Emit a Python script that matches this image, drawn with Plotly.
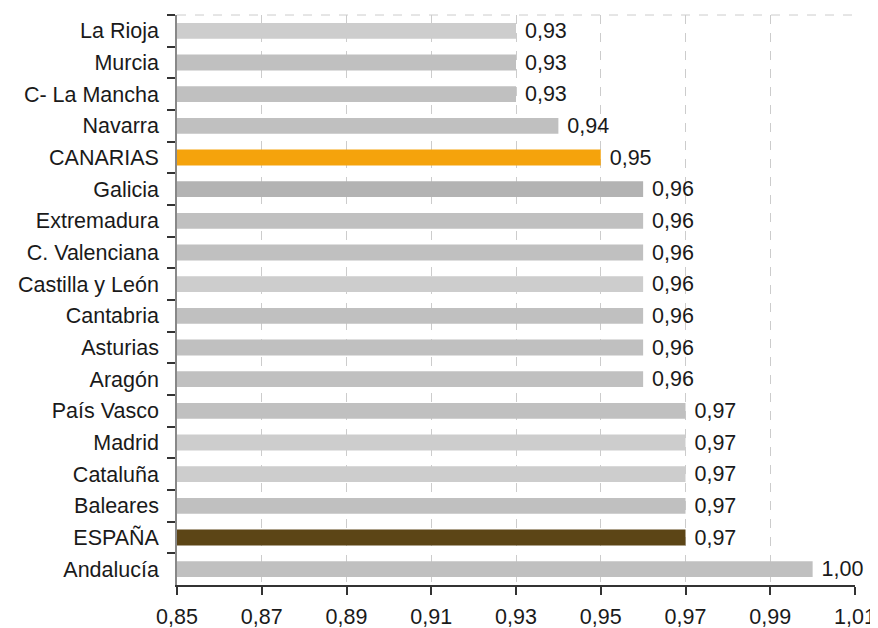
import plotly.graph_objects as go

regions = ["La Rioja", "Murcia", "C- La Mancha", "Navarra", "CANARIAS", "Galicia",
           "Extremadura", "C. Valenciana", "Castilla y León", "Cantabria", "Asturias",
           "Aragón", "País Vasco", "Madrid", "Cataluña", "Baleares", "ESPAÑA", "Andalucía"]
values = [0.93, 0.93, 0.93, 0.94, 0.95, 0.96, 0.96, 0.96, 0.96, 0.96, 0.96, 0.96,
          0.97, 0.97, 0.97, 0.97, 0.97, 1.00]
colors = ["#cdcdcd", "#c0c0c0", "#c0c0c0", "#c0c0c0", "#f5a30c", "#b3b3b3",
          "#c0c0c0", "#c0c0c0", "#cdcdcd", "#c0c0c0", "#c0c0c0", "#c0c0c0",
          "#c0c0c0", "#cdcdcd", "#cdcdcd", "#c0c0c0", "#5c4516", "#c0c0c0"]
x_ticks = [0.85, 0.87, 0.89, 0.91, 0.93, 0.95, 0.97, 0.99, 1.01]

FS = 21.5

fig = go.Figure(go.Bar(
    y=regions, x=values, orientation="h", base=0,
    marker=dict(color=colors, line=dict(width=0)),
    width=0.5,
    text=[" " + f"{v:.2f}".replace(".", ",") for v in values],
    textposition="outside", cliponaxis=False, constraintext="none",
    textfont=dict(size=FS, color="#1a1a1a", family="Liberation Sans"),
))

fig.update_layout(
    width=870, height=620,
    margin=dict(l=169, r=23, t=7, b=43),
    plot_bgcolor="white", paper_bgcolor="white",
    separators=",.",
    font=dict(family="Liberation Sans", size=FS, color="#1a1a1a"),
    showlegend=False,
    xaxis=dict(range=[0.85, 1.01], tickvals=x_ticks,
               ticktext=[f"{t:.2f}".replace(".", ",") for t in x_ticks],
               showgrid=True, gridcolor="#cccccc", griddash="dash", gridwidth=1,
               showline=True, linecolor="#333333", linewidth=1.5,
               ticks="outside", ticklen=8, tickcolor="#333333", tickwidth=1.5,
               zeroline=False, automargin=False, tickfont=dict(size=FS),
               ticklabelstandoff=3),
    yaxis=dict(autorange="reversed", showline=True, linecolor="#888888", linewidth=1.5,
               ticks="outside", tickson="boundaries", ticklen=8, tickcolor="#333333",
               tickwidth=1.5, showgrid=False, ticklabelstandoff=12, automargin=False,
               tickfont=dict(size=FS)),
    shapes=[dict(type="line", xref="paper", yref="paper", x0=0, x1=1, y0=1, y1=1,
                 line=dict(color="#cccccc", width=1, dash="dash"))],
)

fig.write_html("out.html")
